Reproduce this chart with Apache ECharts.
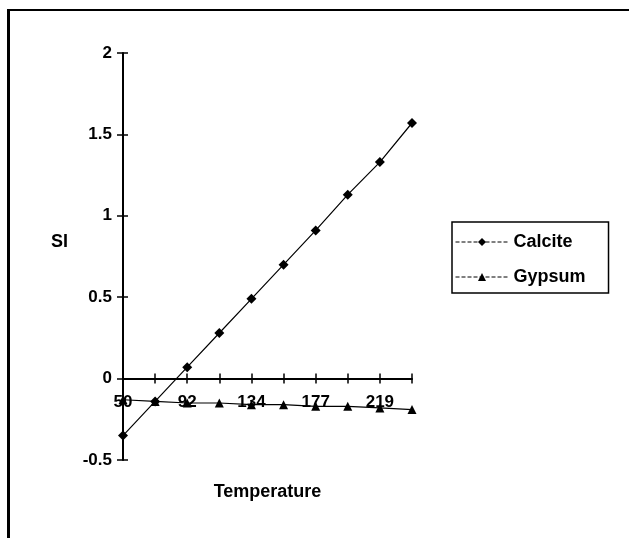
<!DOCTYPE html>
<html>
<head>
<meta charset="utf-8">
<script src="https://cdn.jsdelivr.net/npm/echarts@6/dist/echarts.min.js"></script>
<style>
  html, body { margin: 0; padding: 0; background: #fff; }
  #frame { position: absolute; left: 7px; top: 9px; width: 640px; height: 560px; border-left: 3px solid #000; border-top: 2px solid #000; }
  #chart { position: absolute; left: 0; top: 0; width: 629px; height: 538px; }
</style>
</head>
<body>
<div id="frame"></div>
<div id="chart"></div>
<script>
// === Data === //
const temperatures = ['50', '71', '92', '113', '134', '156', '177', '198', '219', '240']
const calcite = [-0.35, -0.14, 0.07, 0.28, 0.49, 0.70, 0.91, 1.13, 1.33, 1.57]
const gypsum = [-0.13, -0.14, -0.15, -0.15, -0.16, -0.16, -0.17, -0.17, -0.18, -0.19]
const yTicks = { min: -0.5, max: 2, interval: 0.5 }

const font = 'Liberation Sans'
const black = '#000'
const tickFont = { fontFamily: font, fontWeight: 'bold', fontSize: 17, color: black }
const bigFont = { fontFamily: font, fontWeight: 'bold', fontSize: 18, color: black }

const myChart = echarts.init(document.getElementById('chart'))

const option = {
  animation: false,
  textStyle: { fontFamily: font, color: black },
  grid: { left: 123, right: 217, top: 53, bottom: 78, outerBoundsMode: 'none', containLabel: false },
  legend: {
    orient: 'vertical',
    left: 452,
    top: 222,
    itemWidth: 53,
    itemHeight: 10,
    itemGap: 17,
    padding: [11, 23, 7, 3],
    borderColor: black,
    borderWidth: 1.5,
    lineStyle: { type: 'dashed', width: 1 },
    textStyle: bigFont,
    data: ['Calcite', 'Gypsum']
  },
  xAxis: [
    {
      type: 'category',
      data: temperatures,
      boundaryGap: false,
      name: 'Temperature',
      nameLocation: 'middle',
      nameGap: 23,
      nameTextStyle: bigFont,
      axisLine: { onZero: true, onZeroAxisIndex: 0, lineStyle: { color: black, width: 2 } },
      axisTick: { show: true, interval: 0, alignWithLabel: true, length: 5, lineStyle: { color: black, width: 1.5 } },
      // labels sit just under the zero line, over the Gypsum series
      axisLabel: Object.assign({ interval: 1, margin: -66 }, tickFont),
      splitLine: { show: false }
    },
    {
      type: 'category',
      data: temperatures,
      boundaryGap: false,
      position: 'bottom',
      axisLine: { show: false, onZero: true, onZeroAxisIndex: 0 },
      axisTick: { show: true, inside: true, interval: 0, length: 5, lineStyle: { color: black, width: 1.5 } },
      axisLabel: { show: false },
      splitLine: { show: false }
    }
  ],
  yAxis: [
    {
      type: 'value',
      min: yTicks.min,
      max: yTicks.max,
      interval: yTicks.interval,
      name: 'SI',
      nameLocation: 'middle',
      nameRotate: 0,
      nameGap: 55,
      nameTextStyle: Object.assign({ verticalAlign: 'bottom', padding: [0, 0, 5, 0] }, bigFont),
      axisLine: { show: true, onZero: false, lineStyle: { color: black, width: 2 } },
      axisTick: { show: true, length: 6, lineStyle: { color: black, width: 1.5 } },
      axisLabel: Object.assign({ margin: 11 }, tickFont),
      splitLine: { show: false }
    },
    {
      type: 'value',
      min: yTicks.min,
      max: yTicks.max,
      interval: yTicks.interval,
      position: 'left',
      axisLine: { show: false, onZero: false },
      axisTick: { show: true, inside: true, length: 5, lineStyle: { color: black, width: 1.5 } },
      axisLabel: { show: false },
      splitLine: { show: false }
    }
  ],
  series: [
    {
      name: 'Calcite',
      type: 'line',
      data: calcite,
      symbol: 'diamond',
      symbolSize: 10,
      itemStyle: { color: black },
      lineStyle: { color: black, width: 1.2 },
      z: 3
    },
    {
      name: 'Gypsum',
      type: 'line',
      data: gypsum,
      symbol: 'triangle',
      symbolSize: 9,
      itemStyle: { color: black },
      lineStyle: { color: black, width: 1.2 },
      z: 2
    }
  ]
}

myChart.setOption(option)
</script>
</body>
</html>
